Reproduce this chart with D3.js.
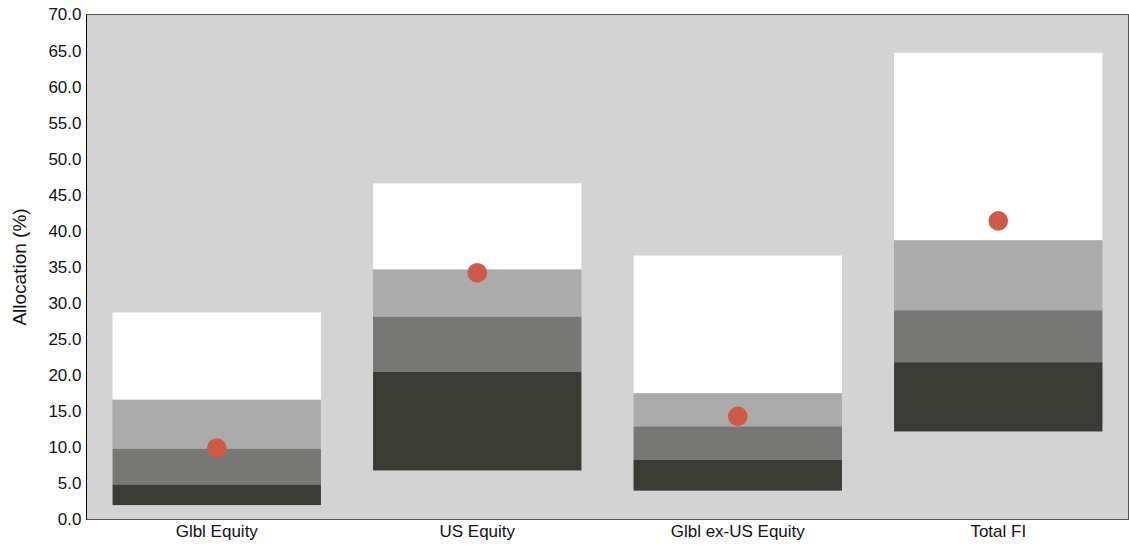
<!DOCTYPE html>
<html><head><meta charset="utf-8">
<script src="https://cdn.jsdelivr.net/npm/d3@7"></script>
<style>body{margin:0;background:#fff}svg{display:block}</style>
</head><body>
<svg id="c" width="1129" height="546"></svg>
<script>
const categories = ["Glbl Equity", "US Equity", "Glbl ex-US Equity", "Total FI"];
const bandMin  = [2.0, 6.8, 4.0, 12.2];
const band25   = [4.85, 20.5, 8.3, 21.8];
const band50   = [9.8, 28.1, 12.9, 29.0];
const band75   = [16.6, 34.65, 17.5, 38.7];
const bandMax  = [28.7, 46.6, 36.6, 64.7];
const current  = [9.9, 34.2, 14.3, 41.4];
const yTicks = d3.range(0, 70.01, 5);

const svg = d3.select("#c");
const m = {l: 86.5, t: 14.5, r: 1128.5, b: 519.5};
const x = d3.scaleBand().domain(categories).range([m.l, m.r]).paddingInner(0.2).paddingOuter(0.1);
const y = d3.scaleLinear().domain([0, 70]).range([m.b, m.t]);

svg.append("rect").attr("x", m.l).attr("y", m.t).attr("width", m.r - m.l).attr("height", m.b - m.t)
  .attr("fill", "#d3d3d3");

const layers = [
  {lo: band75, hi: bandMax, c: "#ffffff"},
  {lo: band50, hi: band75, c: "#ababab"},
  {lo: band25, hi: band50, c: "#777776"},
  {lo: bandMin, hi: band25, c: "#3b3b35"}
];
layers.forEach(L => {
  svg.append("g").selectAll("rect").data(categories).join("rect")
    .attr("x", d => x(d)).attr("width", x.bandwidth())
    .attr("y", (d, i) => y(L.hi[i])).attr("height", (d, i) => y(L.lo[i]) - y(L.hi[i]))
    .attr("fill", L.c);
});

svg.append("g").selectAll("circle").data(categories).join("circle")
  .attr("cx", d => x(d) + x.bandwidth() / 2).attr("cy", (d, i) => y(current[i]))
  .attr("r", 9.8).attr("fill", "#cd5a47");

// frame
svg.append("rect").attr("x", m.l).attr("y", m.t).attr("width", m.r - m.l).attr("height", m.b - m.t)
  .attr("fill", "none").attr("stroke", "#555").attr("stroke-width", 1);
svg.append("line").attr("x1", m.l).attr("x2", m.l).attr("y1", m.t).attr("y2", m.b).attr("stroke", "#000");

const yAxis = svg.append("g").attr("transform", `translate(${m.l},0)`)
  .call(d3.axisLeft(y).tickValues(yTicks).tickFormat(d3.format(".1f")).tickSize(0).tickPadding(5));
yAxis.select(".domain").remove();
yAxis.selectAll("text").attr("font-family", "Liberation Sans, Arial, sans-serif").attr("font-size", 17).attr("fill", "#111");

const xAxis = svg.append("g").attr("transform", `translate(0,${m.b})`)
  .call(d3.axisBottom(x).tickSize(0).tickPadding(5));
xAxis.select(".domain").remove();
xAxis.selectAll("text").attr("font-family", "Liberation Sans, Arial, sans-serif").attr("font-size", 17).attr("fill", "#111");

svg.append("text").attr("transform", `translate(26,${(m.t + m.b) / 2}) rotate(-90)`)
  .attr("text-anchor", "middle").attr("font-family", "Liberation Sans, Arial, sans-serif")
  .attr("font-size", 19).attr("fill", "#111").text("Allocation (%)");
</script>
</body></html>
